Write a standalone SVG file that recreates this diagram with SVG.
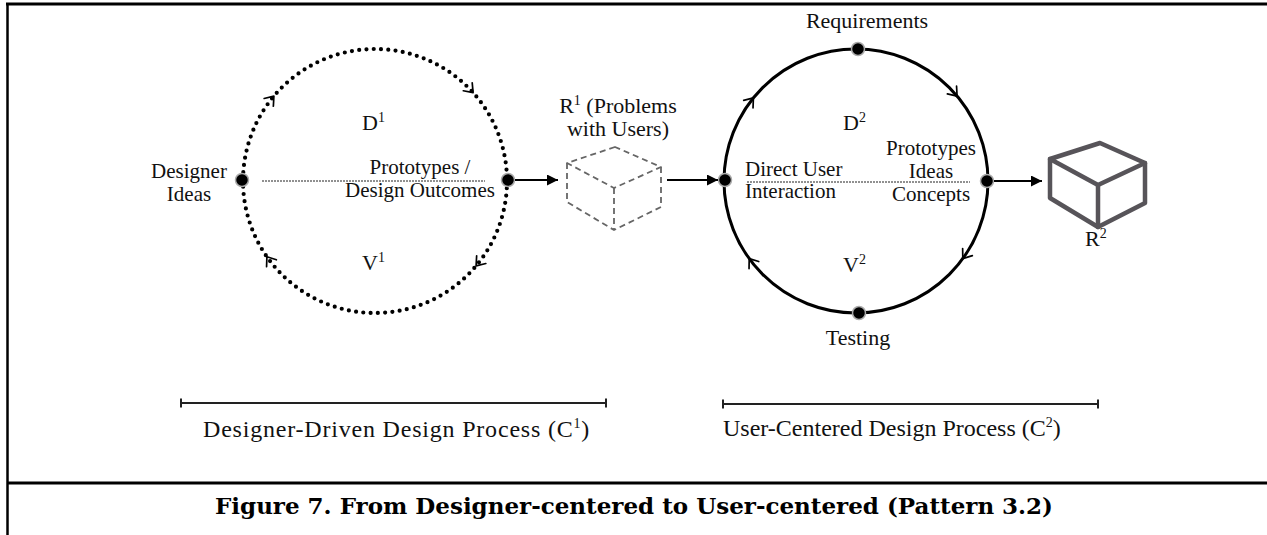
<svg xmlns="http://www.w3.org/2000/svg" xmlns:xlink="http://www.w3.org/1999/xlink" width="1267" height="535" viewBox="0 0 1267 535">
  <style>
    .lbl { font-family: "Liberation Serif", "Times New Roman", serif; font-size: 22px; fill: #111; }
    .stack { font-size: 21px; }
    .mid { text-anchor: middle; }
    .sup { font-size: 14px; }
    .bar-lbl { font-family: "Liberation Serif", "Times New Roman", serif; font-size: 24px; fill: #111; }
    .caption { font-family: "DejaVu Serif", Georgia, serif; font-weight: bold; font-size: 23px; fill: #000; text-anchor: middle; }
    .frame { stroke: #000; fill: none; }
    .node { fill: #000; stroke: #aaa; stroke-width: 1.5; }
    .axis { stroke: #222; stroke-width: 1; stroke-dasharray: 2 1; fill: none; }
    .flow { stroke: #000; stroke-width: 2; fill: none; marker-end: url(#tip); }
    .chev { fill: none; stroke: #000; stroke-width: 1.7; stroke-linecap: round; stroke-linejoin: round; }
    .bar { stroke: #222; stroke-width: 2; fill: none; }
  </style>
  <defs>
    <marker id="tip" viewBox="0 0 10 10" refX="10" refY="5" markerWidth="5.5" markerHeight="5.5" markerUnits="strokeWidth" orient="auto">
      <path d="M0,0 L10,5 L0,10 z" fill="#000"/>
    </marker>
    <path id="chev" class="chev" d="M-8,-6 L0,0 L-8,6"/>
  </defs>

  <!-- frame -->
  <g id="frame">
    <line class="frame" x1="6" y1="4" x2="1267" y2="4" stroke-width="3"/>
    <line class="frame" x1="7.5" y1="3" x2="7.5" y2="535" stroke-width="2.5"/>
    <line class="frame" x1="7" y1="483" x2="1267" y2="483" stroke-width="3"/>
  </g>

  <!-- designer-driven cycle -->
  <g id="cycle-d1">
    <circle cx="375" cy="181" r="132" fill="none" stroke="#000" stroke-width="4.2" stroke-linecap="round" stroke-dasharray="0 7.3"/>
    <use xlink:href="#chev" transform="translate(273.9,96.2) rotate(-50)"/>
    <use xlink:href="#chev" transform="translate(473.1,92.7) rotate(48)"/>
    <use xlink:href="#chev" transform="translate(476.1,265.8) rotate(130)"/>
    <use xlink:href="#chev" transform="translate(266.9,256.7) rotate(235)"/>
    <line class="axis" x1="262" y1="181" x2="485" y2="181"/>
    <text class="lbl" x="362" y="130">D<tspan class="sup" dy="-8">1</tspan></text>
    <text class="lbl" x="362" y="270">V<tspan class="sup" dy="-8">1</tspan></text>
  </g>

  <g id="node-designer-ideas">
    <circle class="node" cx="242" cy="180" r="6.5"/>
    <text class="lbl stack mid" x="189" y="178">Designer</text>
    <text class="lbl stack mid" x="189" y="201">Ideas</text>
  </g>

  <g id="node-prototypes-outcomes">
    <circle class="node" cx="508" cy="180" r="6.5"/>
    <text class="lbl stack mid" x="420" y="174">Prototypes /</text>
    <text class="lbl stack mid" x="420" y="197">Design Outcomes</text>
  </g>

  <!-- R1: problems with users -->
  <g id="node-r1">
    <text class="lbl mid" x="618" y="113">R<tspan class="sup" dy="-8">1</tspan><tspan dy="8"> (Problems</tspan></text>
    <text class="lbl mid" x="618" y="136">with Users)</text>
    <g fill="none" stroke="#666" stroke-width="1.8" stroke-dasharray="6 4" stroke-linejoin="round">
      <path d="M615,147 L567,163 L614,188 L661,167 Z"/>
      <path d="M567,163 L567,202 L614,230 L661,207 L661,167"/>
      <path d="M614,188 L614,230"/>
    </g>
  </g>

  <!-- user-centered cycle -->
  <g id="cycle-d2">
    <circle cx="856" cy="181" r="132" fill="none" stroke="#000" stroke-width="3"/>
    <use xlink:href="#chev" transform="translate(753.4,97.9) rotate(-51)"/>
    <use xlink:href="#chev" transform="translate(957.1,96.2) rotate(50)"/>
    <use xlink:href="#chev" transform="translate(962.8,258.6) rotate(126)"/>
    <use xlink:href="#chev" transform="translate(749.2,258.6) rotate(234)"/>
    <line class="axis" x1="747" y1="182" x2="970" y2="182"/>
    <text class="lbl" x="843" y="130">D<tspan class="sup" dy="-8">2</tspan></text>
    <text class="lbl" x="843" y="272">V<tspan class="sup" dy="-8">2</tspan></text>
  </g>

  <g id="node-requirements">
    <circle class="node" cx="858" cy="49" r="6.5"/>
    <text class="lbl mid" x="867" y="28">Requirements</text>
  </g>

  <g id="node-testing">
    <circle class="node" cx="859" cy="313" r="6.5"/>
    <text class="lbl mid" x="858" y="345">Testing</text>
  </g>

  <g id="node-direct-user">
    <circle class="node" cx="725" cy="180" r="6.5"/>
    <text class="lbl stack" x="745" y="176">Direct User</text>
    <text class="lbl stack" x="745" y="198">Interaction</text>
  </g>

  <g id="node-prototypes-ideas">
    <circle class="node" cx="987" cy="181" r="6.5"/>
    <text class="lbl stack mid" x="931" y="155">Prototypes</text>
    <text class="lbl stack mid" x="931" y="178">Ideas</text>
    <text class="lbl stack mid" x="931" y="201">Concepts</text>
  </g>

  <!-- R2: result -->
  <g id="node-r2">
    <g fill="none" stroke="#575459" stroke-width="4.5" stroke-linejoin="round" stroke-linecap="round">
      <path d="M1100,143 L1050,159 L1098,185 L1145,163 Z"/>
      <path d="M1050,159 L1050,198 L1098,227 L1145,203 L1145,163"/>
      <path d="M1098,185 L1098,227"/>
    </g>
    <text class="lbl" x="1085" y="246">R<tspan class="sup" dy="-8">2</tspan></text>
  </g>

  <!-- connectors -->
  <g id="connectors">
    <line class="flow" x1="515" y1="180" x2="558" y2="180"/>
    <line class="flow" x1="667" y1="180" x2="718" y2="180"/>
    <line class="flow" x1="994" y1="181" x2="1042" y2="181"/>
  </g>

  <!-- phase spans -->
  <g id="span-c1">
    <path class="bar" d="M181,403 H606 M181,398.5 V407.5 M606,398.5 V407.5"/>
    <text class="bar-lbl" x="203" y="437" letter-spacing="0.8">Designer-Driven Design Process (C<tspan class="sup" dy="-9">1</tspan><tspan dy="9">)</tspan></text>
  </g>
  <g id="span-c2">
    <path class="bar" d="M723,404 H1098 M723,399.5 V408.5 M1098,399.5 V408.5"/>
    <text class="bar-lbl" x="723" y="436">User-Centered Design Process (C<tspan class="sup" dy="-9">2</tspan><tspan dy="9">)</tspan></text>
  </g>

  <text class="caption" x="634" y="514">Figure 7. From Designer-centered to User-centered (Pattern 3.2)</text>
</svg>
